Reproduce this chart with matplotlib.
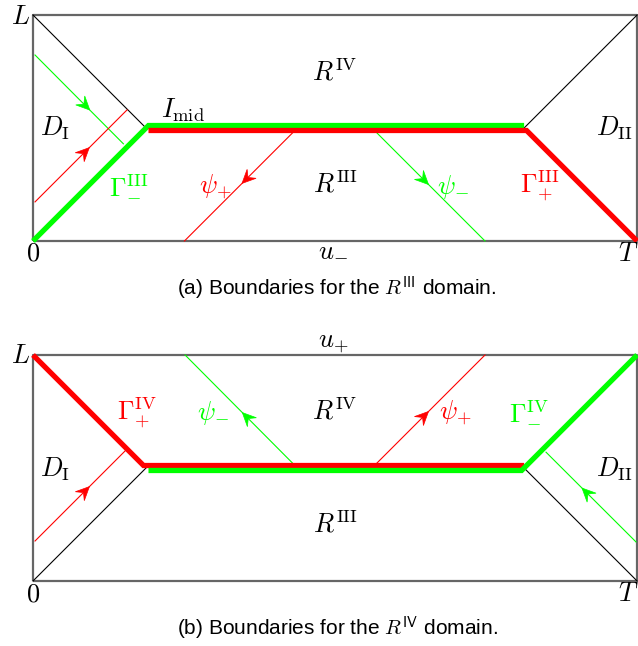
import numpy as np
import matplotlib
matplotlib.use("Agg")
import matplotlib.pyplot as plt
from matplotlib.patches import Polygon

plt.rcParams['mathtext.fontset'] = 'cm'

# ---------------- data ----------------
L_LEN = 1.0
T_LEN = 2.673
H = 0.5            # kink height (L/2)
D_OFF = 0.011      # half offset between the double horizontal boundary

# thin characteristic lines: (x0, y0, x1, y1, arrow fraction, colour); arrow points start->end
chars_a = [
    (0.009, 0.823, 0.400, 0.430, 0.62, 'lime'),
    (0.009, 0.173, 0.416, 0.580, 0.59, 'red'),
    (1.160, 0.490, 0.670, 0.000, 0.48, 'red'),
    (1.510, 0.490, 2.000, 0.000, 0.49, 'lime'),
]
chars_b = [
    (0.009, 0.177, 0.410, 0.578, 0.60, 'red'),
    (2.668, 0.173, 2.270, 0.570, 0.60, 'lime'),
    (1.160, 0.510, 0.673, 1.000, 0.48, 'lime'),
    (1.510, 0.510, 2.000, 1.000, 0.49, 'red'),
]

W, HGT = 638, 646
fig = plt.figure(figsize=(W / 100, HGT / 100), dpi=100)

S = 226.0  # pixels per unit


def make_axes(top_px, bot_px, base_py):
    ax = fig.add_axes([0, (HGT - bot_px) / HGT, 1, (bot_px - top_px) / HGT])
    ax.set_xlim(-33 / S, (W - 33) / S)
    ax.set_ylim((base_py - bot_px) / S, (base_py - top_px) / S)
    ax.axis('off')
    return ax


def stealth(ax, x0, y0, x1, y1, frac, color):
    d = np.array([x1 - x0, y1 - y0])
    d = d / np.hypot(*d)
    n = np.array([-d[1], d[0]])
    tip = np.array([x0, y0]) + frac * np.array([x1 - x0, y1 - y0])
    ln, hw = 0.060, 0.028
    pts = [tip, tip - ln * d + hw * n, tip - 0.62 * ln * d, tip - ln * d - hw * n]
    ax.add_patch(Polygon(pts, closed=True, facecolor=color, edgecolor=color,
                         lw=0.5, zorder=6))


def box(ax):
    ax.plot([0, T_LEN, T_LEN, 0, 0], [0, 0, L_LEN, L_LEN, 0],
            color='#666666', lw=1.6, zorder=3, solid_capstyle='butt')


def chars(ax, lst):
    for x0, y0, x1, y1, f, c in lst:
        ax.plot([x0, x1], [y0, y1], color=c, lw=0.8, zorder=4)
        stealth(ax, x0, y0, x1, y1, f, c)


TH = 3.8
mfs = 19
cfs = 15

# ---------------- panel (a) ----------------
ax = make_axes(0, 320, 241)
box(ax)
ax.plot([0, H], [L_LEN, H], color='black', lw=0.8, zorder=4)
ax.plot([T_LEN - H, T_LEN], [H, L_LEN], color='black', lw=0.8, zorder=4)
ax.plot([0, H + D_OFF, T_LEN - H], [0, H + D_OFF, H + D_OFF], color='lime', lw=TH,
        zorder=5, solid_joinstyle='miter', solid_capstyle='butt')
ax.plot([H + D_OFF, T_LEN - H + D_OFF, T_LEN], [H - D_OFF, H - D_OFF, 0], color='red', lw=TH,
        zorder=5, solid_joinstyle='miter', solid_capstyle='butt')
chars(ax, chars_a)


def pa(px, py):
    return (px - 33) / S, (241 - py) / S


def lab(ax, p, s, color='black', fs=mfs):
    ax.text(p[0], p[1], s, color=color, fontsize=fs, ha='center', va='center', zorder=7)


lab(ax, pa(20, 17), r'$L$')
lab(ax, pa(33, 254), r'$0$')
lab(ax, pa(628, 254), r'$T$')
lab(ax, pa(333, 249), r'$u_{-}$')
lab(ax, pa(335, 73), r'$R^{\mathrm{IV}}$')
lab(ax, pa(335, 185), r'$R^{\mathrm{III}}$')
lab(ax, pa(55, 128), r'$D_{\mathrm{I}}$')
lab(ax, pa(614, 128), r'$D_{\mathrm{II}}$')
lab(ax, pa(183, 110), r'$I_{\mathrm{mid}}$')
lab(ax, pa(129, 186), r'$\Gamma_{-}^{\mathrm{III}}$', 'lime')
lab(ax, pa(540, 186), r'$\Gamma_{+}^{\mathrm{III}}$', 'red')
lab(ax, pa(215, 187), r'$\psi_{+}$', 'red')
lab(ax, pa(453, 187), r'$\psi_{-}$', 'lime')
ax.text(*pa(337, 288), r'(a) Boundaries for the $R^{\mathsf{III}}$ domain.',
        fontsize=cfs, family='Liberation Sans', ha='center', va='center')

# ---------------- panel (b) ----------------
ax = make_axes(320, 646, 581)
box(ax)
ax.plot([0, H], [0, H], color='black', lw=0.8, zorder=4)
ax.plot([T_LEN - H, T_LEN], [H, 0], color='black', lw=0.8, zorder=4)
ax.plot([0, H - D_OFF, T_LEN - H], [L_LEN, H + D_OFF, H + D_OFF], color='red', lw=TH,
        zorder=5, solid_joinstyle='miter', solid_capstyle='butt')
ax.plot([H + D_OFF, T_LEN - H - D_OFF, T_LEN], [H - D_OFF, H - D_OFF, L_LEN], color='lime', lw=TH,
        zorder=5, solid_joinstyle='miter', solid_capstyle='butt')
chars(ax, chars_b)


def pb(px, py):
    return (px - 33) / S, (581 - py) / S


lab(ax, pb(20, 356), r'$L$')
lab(ax, pb(33, 594), r'$0$')
lab(ax, pb(628, 594), r'$T$')
lab(ax, pb(333, 342), r'$u_{+}$')
lab(ax, pb(335, 412), r'$R^{\mathrm{IV}}$')
lab(ax, pb(335, 525), r'$R^{\mathrm{III}}$')
lab(ax, pb(55, 469), r'$D_{\mathrm{I}}$')
lab(ax, pb(614, 469), r'$D_{\mathrm{II}}$')
lab(ax, pb(137, 413), r'$\Gamma_{+}^{\mathrm{IV}}$', 'red')
lab(ax, pb(529, 412), r'$\Gamma_{-}^{\mathrm{IV}}$', 'lime')
lab(ax, pb(213, 413), r'$\psi_{-}$', 'lime')
lab(ax, pb(455, 413), r'$\psi_{+}$', 'red')
ax.text(*pb(337, 628), r'(b) Boundaries for the $R^{\mathsf{IV}}$ domain.',
        fontsize=cfs, family='Liberation Sans', ha='center', va='center')

fig.savefig('out.png', dpi=100)
